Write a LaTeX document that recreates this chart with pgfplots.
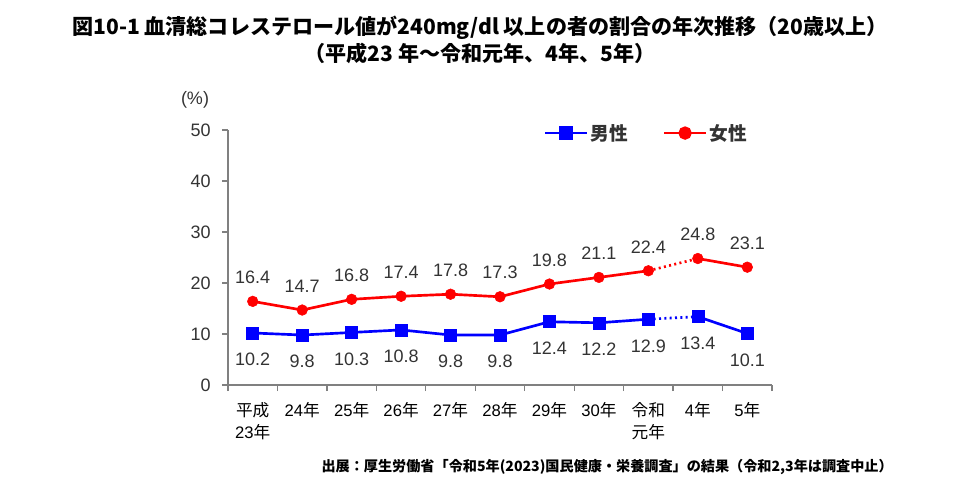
\documentclass[border=0pt]{standalone}
\usepackage{fontspec}
\setmainfont{Liberation Sans}
\newfontfamily\cjk{Noto Sans CJK JP}
\usepackage{pgfplots}
\pgfplotsset{compat=1.18}
\definecolor{axisgray}{HTML}{808080}
\definecolor{txt}{HTML}{333333}
\definecolor{mblue}{HTML}{0000FF}
\definecolor{fred}{HTML}{FF0000}
\begin{document}
\begin{tikzpicture}
\path[use as bounding box] (0pt,0pt) rectangle (720pt,-366pt);
\node[font=\cjk\bfseries\fontsize{15.8}{18}\selectfont] at (360pt,-21pt) {図10-1 血清総コレステロール値が240mg/dl 以上の者の割合の年次推移（20歳以上）};
\node[font=\cjk\bfseries\fontsize{15.8}{18}\selectfont] at (360pt,-39.75pt) {（平成23 年～令和元年、4年、5年）};
\node[font=\fontsize{13.5}{15}\selectfont, text=txt] at (146.25pt,-75pt) {(\%)};
\node[font=\cjk\bfseries\fontsize{10.6}{12}\selectfont, anchor=east, inner sep=0pt] at (669.75pt,-350.25pt) {出展：厚生労働省「令和5年(2023)国民健康・栄養調査」の結果（令和2,3年は調査中止）};
\begin{axis}[at={(171pt,-288.75pt)}, anchor=south west, scale only axis,
  width=408pt, height=191.25pt,
  xmin=-0.5, xmax=10.5, ymin=0, ymax=50, clip=false,
  axis x line*=bottom, axis y line*=left,
  axis line style={axisgray, line width=0.9pt},
  tick style={axisgray, line width=0.9pt},
  tick align=outside,
  major tick length=4.5pt, minor tick length=4.5pt,
  xtick={0,...,10},
  major x tick style={draw=none},
  minor xtick={-0.5,0.5,...,10.5},
  xticklabels={{{\cjk 平成}\\23{\cjk 年}},24{\cjk 年},25{\cjk 年},26{\cjk 年},27{\cjk 年},28{\cjk 年},29{\cjk 年},30{\cjk 年},{{\cjk 令和}\\{\cjk 元年}},4{\cjk 年},5{\cjk 年}},
  xticklabel style={align=center, font=\fontsize{12.5}{16.5}\selectfont, text=black, anchor=north, yshift=-5pt},
  ytick={0,10,...,50},
  yticklabel style={font=\fontsize{13.5}{15}\selectfont, text=txt, xshift=-5pt},
  /pgf/number format/assume math mode=true,
  legend style={at={(0.77,0.988)}, anchor=center, draw=none, fill=none,
    legend columns=2, /tikz/every even column/.append style={column sep=24pt},
    font=\cjk\bfseries\fontsize{14}{16}\selectfont, text=txt},
  legend image code/.code={\draw[mark repeat=2,mark phase=2] plot coordinates {(0cm,0cm) (0.55cm,0cm) (1.1cm,0cm)};},
]
\addlegendimage{mblue, line width=2pt, mark=square*, mark size=4.5pt}
\addlegendentry{男性}
\addlegendimage{fred, line width=2pt, mark=*, mark size=4pt}
\addlegendentry{女性}
% male lines
\addplot[mblue, line width=2pt, forget plot] coordinates {(0,10.2)(1,9.8)(2,10.3)(3,10.8)(4,9.8)(5,9.8)(6,12.4)(7,12.2)(8,12.9)};
\addplot[mblue, line width=2pt, dash pattern=on 1.5pt off 2.5pt, forget plot] coordinates {(8,12.9)(9,13.4)};
\addplot[mblue, line width=2pt, forget plot] coordinates {(9,13.4)(10,10.1)};
% female lines
\addplot[fred, line width=2pt, forget plot] coordinates {(0,16.4)(1,14.7)(2,16.8)(3,17.4)(4,17.8)(5,17.3)(6,19.8)(7,21.1)(8,22.4)};
\addplot[fred, line width=2pt, dash pattern=on 1.5pt off 2.5pt, forget plot] coordinates {(8,22.4)(9,24.8)};
\addplot[fred, line width=2pt, forget plot] coordinates {(9,24.8)(10,23.1)};
% marks + labels
\addplot[only marks, mblue, mark=square*, mark size=4.5pt, forget plot,
  nodes near coords={\pgfmathprintnumber[fixed,fixed zerofill,precision=1,assume math mode=true]{\pgfplotspointmeta}},
  every node near coord/.append style={anchor=center, yshift=-20pt, text=txt, font=\fontsize{13.5}{15}\selectfont}]
  coordinates {(0,10.2)(1,9.8)(2,10.3)(3,10.8)(4,9.8)(5,9.8)(6,12.4)(7,12.2)(8,12.9)(9,13.4)(10,10.1)};
\addplot[only marks, fred, mark=*, mark size=4pt, forget plot,
  nodes near coords={\pgfmathprintnumber[fixed,fixed zerofill,precision=1,assume math mode=true]{\pgfplotspointmeta}},
  every node near coord/.append style={anchor=center, yshift=18pt, text=txt, font=\fontsize{13.5}{15}\selectfont}]
  coordinates {(0,16.4)(1,14.7)(2,16.8)(3,17.4)(4,17.8)(5,17.3)(6,19.8)(7,21.1)(8,22.4)(9,24.8)(10,23.1)};
\end{axis}
\end{tikzpicture}
\end{document}
